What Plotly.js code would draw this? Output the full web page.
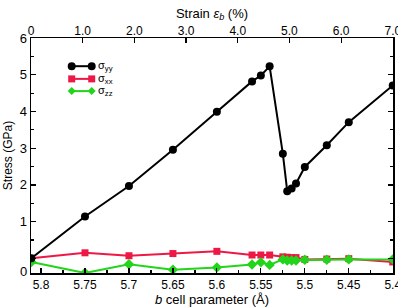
<!DOCTYPE html>
<html>
<head>
<meta charset="utf-8">
<script src="https://cdn.plot.ly/plotly-3.0.1.min.js"></script>
<style>html,body{margin:0;padding:0;background:#fff;}#plot{width:398px;height:307px;}</style>
</head>
<body>
<div id="plot"></div>
<script>
// b cell parameter (Å)
const bCell = [5.811, 5.75, 5.70, 5.65, 5.60, 5.56, 5.55, 5.54, 5.525, 5.52, 5.515, 5.51, 5.50, 5.475, 5.45, 5.40];
// Stress components (GPa)
const sigmaYY = [0.00, 1.14, 1.97, 2.96, 3.99, 4.82, 4.98, 5.23, 2.85, 1.83, 1.90, 2.04, 2.49, 3.08, 3.71, 4.71];
const sigmaXX = [0.00, 0.15, 0.07, 0.13, 0.19, 0.09, 0.09, 0.09, 0.04, 0.03, 0.02, 0.02, -0.03, -0.02, -0.01, -0.10];
const sigmaZZ = [-0.10, -0.40, -0.16, -0.31, -0.25, -0.17, -0.11, -0.18, -0.03, -0.06, -0.06, -0.06, -0.04, -0.04, -0.03, -0.03];
// Axis tick values / labels
const bTicks = [5.8, 5.75, 5.7, 5.65, 5.6, 5.55, 5.5, 5.45, 5.4];
const bLabels = ['5.8', '5.75', '5.7', '5.65', '5.6', '5.55', '5.5', '5.45', '5.4'];
const strainTicks = [0, 1, 2, 3, 4, 5, 6, 7];
const strainLabels = ['0', '1.0', '2.0', '3.0', '4.0', '5.0', '6.0', '7.0'];
const seriesNames = ['σ<sub>yy</sub>', 'σ<sub>xx</sub>', 'σ<sub>zz</sub>'];

const BLACK = '#000000', RED = '#ee1846', GREEN = '#22d41a';
const FONT = 'Liberation Sans, Arial, sans-serif';

const traces = [
  {x: bCell, y: sigmaXX, type: 'scatter', mode: 'lines+markers', name: 'xx',
   line: {color: RED, width: 2}, marker: {symbol: 'square', size: 7, color: RED}},
  {x: bCell, y: sigmaZZ, type: 'scatter', mode: 'lines+markers', name: 'zz',
   line: {color: GREEN, width: 2}, marker: {symbol: 'diamond', size: 8, color: GREEN}},
  {x: bCell, y: sigmaYY, type: 'scatter', mode: 'lines+markers', name: 'yy',
   line: {color: BLACK, width: 2}, marker: {symbol: 'circle', size: 8, color: BLACK}},
  {x: strainTicks, y: strainTicks.map(() => null), xaxis: 'x2', yaxis: 'y', type: 'scatter',
   mode: 'markers', showlegend: false, hoverinfo: 'skip'}
];

// Manual legend (Origin style: line with a marker at each end)
const legX0 = 0.1124, legX1 = 0.1677;
const legY = [0.880, 0.826, 0.774];
const legColors = [BLACK, RED, GREEN];
const shapes = [];
const annotations = [];
legY.forEach((yy, i) => {
  shapes.push({type: 'line', xref: 'paper', yref: 'paper', x0: legX0, x1: legX1, y0: yy, y1: yy,
               line: {color: legColors[i], width: 2}});
  [legX0, legX1].forEach(xx => {
    if (i === 0) {
      shapes.push({type: 'circle', xref: 'paper', yref: 'paper', xsizemode: 'pixel', ysizemode: 'pixel',
                   xanchor: xx, yanchor: yy, x0: -4, x1: 4, y0: -4, y1: 4,
                   fillcolor: BLACK, line: {color: BLACK, width: 0}});
    } else if (i === 1) {
      shapes.push({type: 'rect', xref: 'paper', yref: 'paper', xsizemode: 'pixel', ysizemode: 'pixel',
                   xanchor: xx, yanchor: yy, x0: -3.5, x1: 3.5, y0: -3.5, y1: 3.5,
                   fillcolor: RED, line: {color: RED, width: 0}});
    } else {
      shapes.push({type: 'path', xref: 'paper', yref: 'paper', xsizemode: 'pixel', ysizemode: 'pixel',
                   xanchor: xx, yanchor: yy, path: 'M -4 0 L 0 4 L 4 0 L 0 -4 Z',
                   fillcolor: GREEN, line: {color: GREEN, width: 0}});
    }
  });
  annotations.push({xref: 'paper', yref: 'paper', x: 0.183, y: yy, xanchor: 'left', yanchor: 'middle',
                    text: seriesNames[i], showarrow: false, borderpad: 0,
                    font: {family: FONT, size: 11, color: '#000'}});
});
// "0" stress label sits at the bottom corner in the reference
annotations.push({xref: 'paper', yref: 'paper', x: 0, y: 0, xanchor: 'right', yanchor: 'middle',
                  xshift: -3, yshift: 2, text: '0', showarrow: false, borderpad: 0,
                  font: {family: FONT, size: 13, color: '#000'}});

const layout = {
  width: 398, height: 307,
  margin: {l: 31, r: 5, t: 38, b: 34},
  paper_bgcolor: '#fff', plot_bgcolor: '#fff',
  showlegend: false,
  font: {family: FONT, size: 12, color: '#000'},
  xaxis: {
    range: [5.8114, 5.3997], tickmode: 'array', tickvals: bTicks, ticktext: bLabels,
    ticks: 'inside', ticklen: 5, tickwidth: 1.2, tickcolor: '#000', ticklabeloverflow: 'allow',
    minor: {dtick: 0.025, tick0: 5.4, ticks: 'inside', ticklen: 3, tickwidth: 1.2, tickcolor: '#000'},
    showline: true, linecolor: '#000', linewidth: 1.5, mirror: true,
    showgrid: false, zeroline: false,
    tickfont: {family: FONT, size: 12, color: '#000'},
    title: {text: '<i>b</i> cell parameter (Å)', font: {family: FONT, size: 13, color: '#000'}, standoff: 4}
  },
  xaxis2: {
    overlaying: 'x', side: 'top', anchor: 'y',
    range: [0, 7.003], tickmode: 'array', tickvals: strainTicks, ticktext: strainLabels,
    ticks: 'inside', ticklen: 5, tickwidth: 1.2, tickcolor: '#000', ticklabeloverflow: 'allow',
    showline: false, showgrid: false, zeroline: false,
    tickfont: {family: FONT, size: 12, color: '#000'},
    title: {text: 'Strain <i>ε</i><sub><i>b</i></sub> (%)', font: {family: FONT, size: 13, color: '#000'}, standoff: 2}
  },
  yaxis: {
    range: [-0.4, 6.002], tickmode: 'linear', tick0: 0, dtick: 1, labelalias: {'0': ' '},
    ticks: 'inside', ticklen: 5, tickwidth: 1.2, tickcolor: '#000',
    minor: {dtick: 0.5, tick0: 0, ticks: 'inside', ticklen: 3, tickwidth: 1.2, tickcolor: '#000'},
    showline: true, linecolor: '#000', linewidth: 1.5, mirror: 'ticks',
    showgrid: false, zeroline: false,
    tickfont: {family: FONT, size: 13, color: '#000'},
    title: {text: 'Stress (GPa)', font: {family: FONT, size: 12, color: '#000'}, standoff: 4}
  },
  shapes: shapes,
  annotations: annotations
};

Plotly.newPlot('plot', traces, layout, {displayModeBar: false, staticPlot: true});
</script>
</body>
</html>
